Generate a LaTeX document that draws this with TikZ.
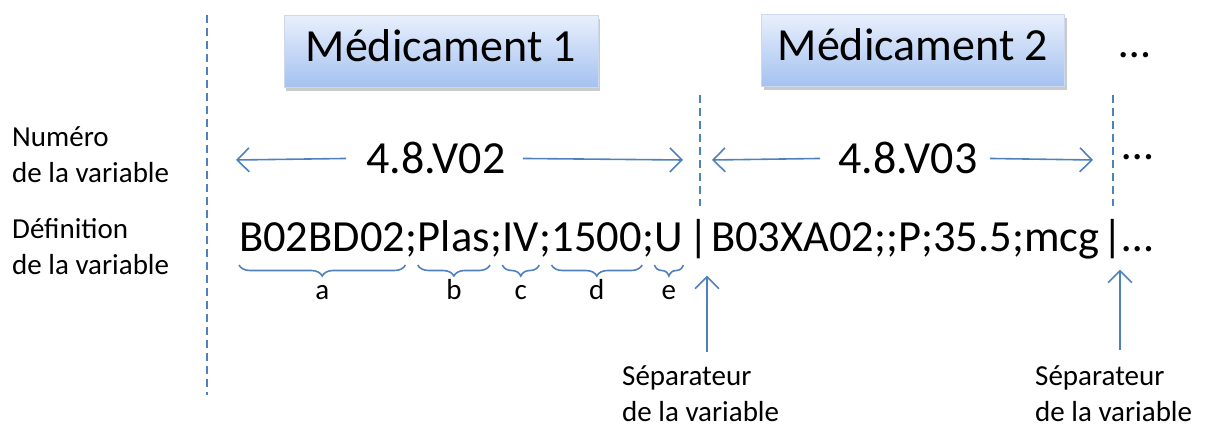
\documentclass[tikz,border=0pt]{standalone}
\usepackage{fontspec}
\setmainfont{Carlito}
\usetikzlibrary{calc,arrows.meta,decorations.pathreplacing,shadows}
\definecolor{accent}{RGB}{79,129,189}
\definecolor{boxtop}{RGB}{232,239,252}
\definecolor{boxbot}{RGB}{163,193,240}
\definecolor{boxline}{RGB}{205,216,235}

\begin{document}
\begin{tikzpicture}[x=1pt, y=-1pt,
  bigtext/.style={font=\fontsize{44.5}{52}\selectfont, inner sep=0pt},
  headtext/.style={font=\fontsize{46}{54}\selectfont, inner sep=0pt},
  smalltext/.style={font=\fontsize{29}{36}\selectfont, inner sep=0pt, align=left, text=black},
  medbox/.style={headtext, draw=boxline, line width=1pt, top color=boxtop, bottom color=boxbot,
    minimum height=72pt, text depth=12pt,
    drop shadow={shadow xshift=2pt, shadow yshift=-3pt, opacity=0.35, fill=black!60}},
  sepline/.style={accent, line width=1.6pt, dash pattern=on 8pt off 5pt},
  numarrow/.style={accent, line width=1.6pt, -{Straight Barb[length=12pt, width=24pt]}},
  fieldbrace/.style={accent, line width=1.6pt, decorate, decoration={brace, mirror, amplitude=11pt}},
]
\useasboundingbox (0,0) rectangle (1209,427);

% --------- Separator lines ----------
\coordinate (sepA top) at (207,15);   \coordinate (sepA bot) at (207,395);
\coordinate (sepB top) at (700,95);   \coordinate (sepB bot) at (700,206);
\coordinate (sepC top) at (1113,95);  \coordinate (sepC bot) at (1113,206);
\draw[sepline] (sepA top) -- (sepA bot);
\draw[sepline] (sepB top) -- (sepB bot);
\draw[sepline] (sepC top) -- (sepC bot);

% --------- Medication boxes ----------
\node[medbox, minimum width=314pt] (med1) at (441,52) {Médicament 1};
\node[medbox, minimum width=303pt] (med2) at (913,51) {Médicament 2};
\node[bigtext, anchor=base] (dotsA) at (1135,58) {…};

% --------- Row labels (base = last line) ----------
\node[smalltext, anchor=base west] (numlab) at (12,183) {Numéro\\de la variable};
\node[smalltext, anchor=base west] (deflab) at (12,275) {Définition\\de la variable};

% --------- Variable numbers ----------
\node[headtext, anchor=base] (v02) at (436,174) {4.8.V02};
\node[headtext, anchor=base] (v03) at (908,174) {4.8.V03};
\node[bigtext, anchor=base] (dotsB) at (1138,160) {…};

\coordinate (v02 left)  at (236,160);
\coordinate (v02 right) at (683,160);
\coordinate (v03 left)  at (712,160);
\coordinate (v03 right) at (1093,160);
\draw[numarrow] ([xshift=-20pt]v02.west) -- (v02 left);
\draw[numarrow] ([xshift=17pt]v02.east) -- (v02 right);
\draw[numarrow] ([xshift=-18pt]v03.west) -- (v03 left);
\draw[numarrow] ([xshift=12pt]v03.east) -- (v03 right);

% --------- Variable definition (fields) ----------
\node[bigtext, anchor=base west] (fa)  at (239,252) {B02BD02};
\node[bigtext, anchor=base west] (sc1) at (fa.base east)  {;};
\node[bigtext, anchor=base west] (fb)  at (sc1.base east) {Plas};
\node[bigtext, anchor=base west] (sc2) at (fb.base east)  {;};
\node[bigtext, anchor=base west] (fc)  at (sc2.base east) {IV};
\node[bigtext, anchor=base west] (sc3) at (fc.base east)  {;};
\node[bigtext, anchor=base west] (fd)  at (sc3.base east) {1500};
\node[bigtext, anchor=base west] (sc4) at (fd.base east)  {;};
\node[bigtext, anchor=base west] (fe)  at (sc4.base east) {U};
\node[bigtext, anchor=base] (bar1) at (699,252) {|};
\node[bigtext, anchor=base west] (rest) at (711,252) {B03XA02;;P;35.5;mcg};
\node[bigtext, anchor=base] (bar2) at (1113,252) {|};
\node[bigtext, anchor=base west] (dotsC) at (1122,252) {…};

% braces under each field
\foreach \f/\l in {fa/a, fb/b, fc/c, fd/d, fe/e}{
  \draw[fieldbrace] ([yshift=-13pt]\f.base west) -- ([yshift=-13pt]\f.base east)
    node[smalltext, midway, anchor=base, yshift=-35pt] (lab\l) {\l};
}

% --------- Separator pointers ----------
\node[smalltext, anchor=base west] (seplab1) at (622,421) {Séparateur\\de la variable};
\node[smalltext, anchor=base west] (seplab2) at (1035,421) {Séparateur\\de la variable};
\coordinate (sep1 foot) at (707,352);
\coordinate (sep2 foot) at (1120,350);
\draw[numarrow] (sep1 foot) -- ($(sep1 foot |- bar1.south)+(0,16)$);
\draw[numarrow] (sep2 foot) -- ($(sep2 foot |- bar2.south)+(0,10)$);

\end{tikzpicture}
\end{document}
